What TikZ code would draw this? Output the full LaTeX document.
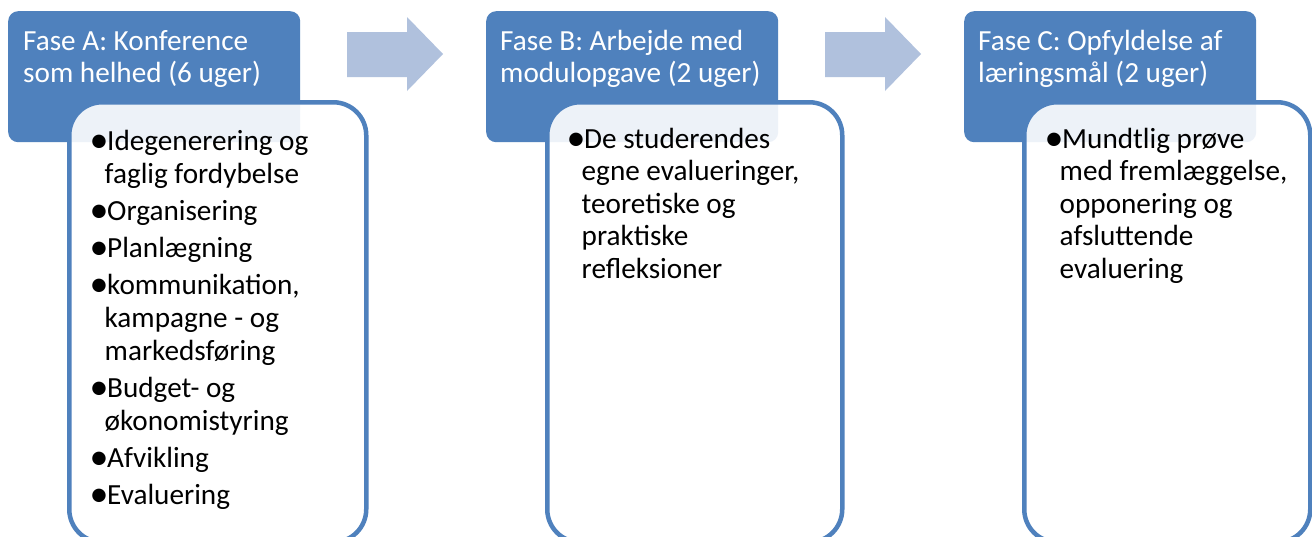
\documentclass[tikz,border=0pt]{standalone}
\usepackage{fontspec}
\setmainfont{Carlito}
\definecolor{hblue}{HTML}{4F81BD}
\definecolor{ablue}{HTML}{B0C1DD}
\newcommand{\bul}{\strut\makebox[13pt][l]{\hspace*{-4.5pt}\raisebox{-2.4pt}{\scalebox{1.3}{\textbullet}}}}
\newcommand{\cont}{\strut\hspace*{10.5pt}}
\tikzset{
  hdr/.style={fill=hblue, draw=none, rounded corners=10pt, minimum width=292pt, minimum height=131pt, anchor=north west, inner sep=0pt},
  bodybox/.style={draw=hblue, line width=4.5pt, fill=white, fill opacity=0.9, draw opacity=1, rounded corners=33pt, minimum height=440pt, anchor=north west, inner sep=0pt},
  htext/.style={text=white, font={\fontsize{29.2}{32}\selectfont}, align=left, anchor=north west, inner sep=0pt},
  btext/.style={text=black, font={\fontsize{29.2}{33}\selectfont}, align=left, anchor=north west, inner sep=0pt},
  btextb/.style={text=black, font={\fontsize{29.2}{32.5}\selectfont}, align=left, anchor=north west, inner sep=0pt},
  flowarrow/.style={fill=ablue, draw=none}
}
\begin{document}
\begin{tikzpicture}[x=1pt,y=-1pt]
\useasboundingbox (0,0) rectangle (1312,536);
\fill[white] (0,0) rectangle (1312,536);

% Phase A
\node[hdr] (hA) at (8,11) {};
\node[htext] (tA) at (23,27.6) {\strut Fase A: Konference\\som helhed (6 uger)};
\node[bodybox, minimum width=297pt] (bA) at (67,100) {};
\node[btext] (lA) at (94,126.9) {%
\bul Idegenerering og\\
\cont faglig fordybelse\\[4pt]
\bul Organisering\\[4pt]
\bul Planlægning\\[4pt]
\bul kommunikation,\\
\cont kampagne - og\\
\cont markedsføring\\[4pt]
\bul Budget- og\\
\cont økonomistyring\\[4pt]
\bul Afvikling\\[4pt]
\bul Evaluering};

% Arrow 1
\fill[flowarrow] (347,32) -- (407,32) -- (407,17) -- (443,54) -- (407,91) -- (407,77) -- (347,77) -- cycle;

% Phase B
\node[hdr] (hB) at (486,11) {};
\node[htext] (tB) at (500,27.6) {\strut Fase B: Arbejde med\\modulopgave (2 uger)};
\node[bodybox, minimum width=295pt] (bB) at (545,100) {};
\node[btextb] (lB) at (571,125.25) {%
\bul De studerendes\\
\cont egne evalueringer,\\
\cont teoretiske og\\
\cont praktiske\\
\cont refleksioner};

% Arrow 2
\fill[flowarrow] (825,32) -- (885,32) -- (885,17) -- (921,54) -- (885,91) -- (885,77) -- (825,77) -- cycle;

% Phase C
\node[hdr] (hC) at (964,11) {};
\node[htext] (tC) at (978,27.6) {\strut Fase C: Opfyldelse af\\læringsmål (2 uger)};
\node[bodybox, minimum width=286pt] (bC) at (1022,100) {};
\node[btextb] (lC) at (1049,125.25) {%
\bul Mundtlig prøve\\
\cont med fremlæggelse,\\
\cont opponering og\\
\cont afsluttende\\
\cont evaluering};
\end{tikzpicture}
\end{document}
